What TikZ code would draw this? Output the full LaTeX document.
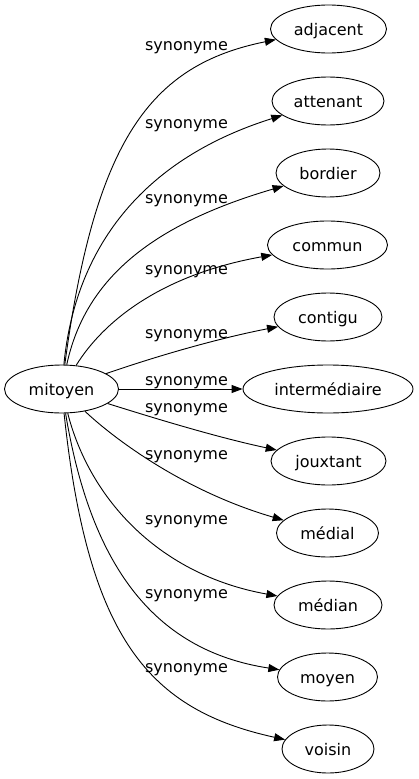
\documentclass[tikz,border=0pt]{standalone}
\usepackage{fontspec}
\setmainfont{DejaVu Sans}
\usetikzlibrary{shapes.geometric,arrows.meta}
\tikzset{
  term/.style={draw, ellipse, inner sep=0pt, minimum height=48pt, line width=0.9pt,
    text height=12pt, text depth=0pt, font=\fontsize{16}{19}\selectfont},
  rel/.style={inner sep=0pt, text height=12pt, text depth=0pt, font=\fontsize{16}{19}\selectfont},
  edge/.style={draw, line width=0.9pt, -{Triangle[length=11pt,width=8pt]}}
}
\begin{document}
\begin{tikzpicture}[x=1pt,y=-1pt]
\useasboundingbox (0,0) rectangle (418,779);
\node[term, minimum width=114pt] (mitoyen) at (61.5,389) {mitoyen};
\node[term, minimum width=116pt] (adjacent) at (328.5,29) {adjacent};
\node[term, minimum width=112pt] (attenant) at (328,101) {attenant};
\node[term, minimum width=104pt] (bordier) at (328,173) {bordier};
\node[term, minimum width=120pt] (commun) at (327.5,245) {commun};
\node[term, minimum width=108pt] (contigu) at (328,317) {contigu};
\node[term, minimum width=170pt] (intermediaire) at (328,389) {intermédiaire};
\node[term, minimum width=115pt] (jouxtant) at (328.5,461) {jouxtant};
\node[term, minimum width=102pt] (medial) at (327.5,533) {médial};
\node[term, minimum width=108pt] (median) at (328,605) {médian};
\node[term, minimum width=100pt] (moyen) at (327.5,677) {moyen};
\node[term, minimum width=92pt] (voisin) at (328,749) {voisin};

\path[edge] (mitoyen) .. controls (95,140) and (150,65) .. (adjacent);
\path[edge] (mitoyen) .. controls (75,250) and (140,160) .. (attenant);
\path[edge] (mitoyen) .. controls (85,280) and (150,225) .. (bordier);
\path[edge] (mitoyen) .. controls (103,322) and (160,275) .. (commun);
\path[edge] (mitoyen) .. controls (160,355) and (220,338) .. (contigu);
\path[edge] (mitoyen) -- (intermediaire);
\path[edge] (mitoyen) .. controls (160,420) and (220,438) .. (jouxtant);
\path[edge] (mitoyen) .. controls (110,435) and (180,490) .. (medial);
\path[edge] (mitoyen) .. controls (90,500) and (160,575) .. (median);
\path[edge] (mitoyen) .. controls (90,560) and (150,650) .. (moyen);
\path[edge] (mitoyen) .. controls (88,640) and (150,710) .. (voisin);

\node[rel] (l1) at (186.5,44) {synonyme};
\node[rel] (l2) at (186.5,122) {synonyme};
\node[rel] (l3) at (186.5,197) {synonyme};
\node[rel] (l4) at (186.5,268) {synonyme};
\node[rel] (l5) at (186.5,332) {synonyme};
\node[rel] (l6) at (186.5,379) {synonyme};
\node[rel] (l7) at (186.5,406) {synonyme};
\node[rel] (l8) at (186.5,453) {synonyme};
\node[rel] (l9) at (186.5,518) {synonyme};
\node[rel] (l10) at (186.5,592) {synonyme};
\node[rel] (l11) at (186.5,666) {synonyme};
\end{tikzpicture}
\end{document}
